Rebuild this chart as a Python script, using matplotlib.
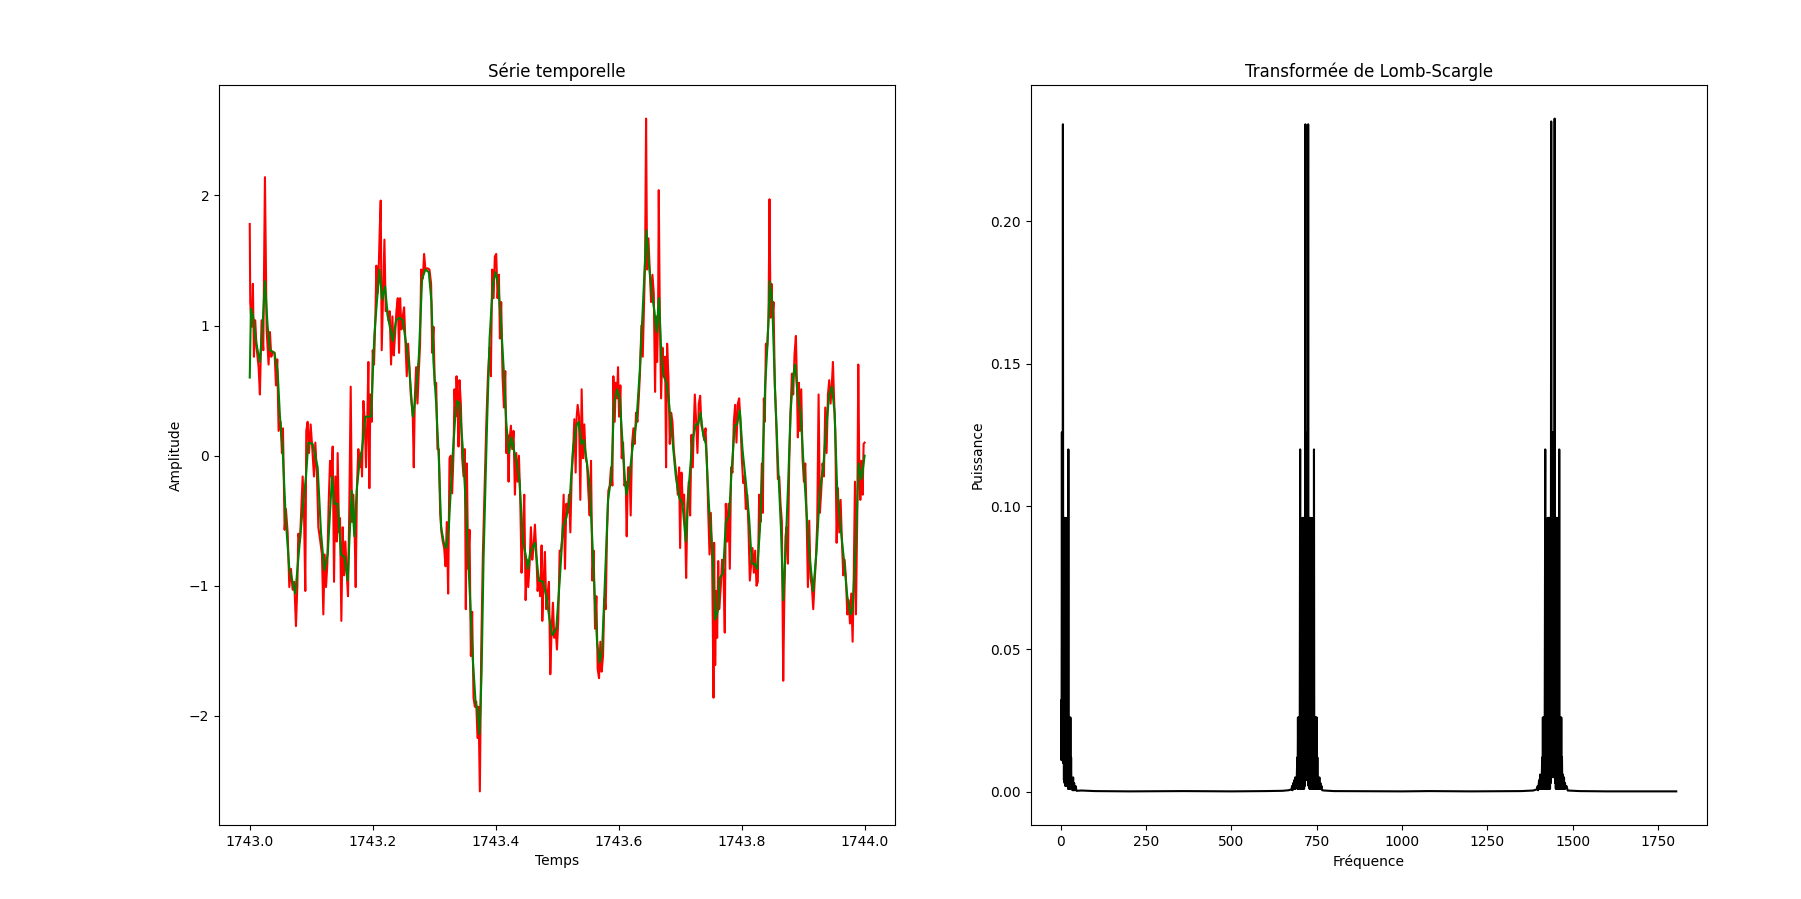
import numpy as np
import matplotlib
matplotlib.use("Agg")
import matplotlib.pyplot as plt

# Time axis starts at this year, offsets below are fractions of the year
t0 = 1743.0

# Raw series (red), (time offset, amplitude)
red_pts = [
    (0.0000, 1.78), (0.0008, 1.18), (0.0030, 0.99), (0.0051, 1.32), (0.0068, 0.76), (0.0089, 1.04),
    (0.0111, 0.83), (0.0144, 0.68), (0.0165, 0.47), (0.0192, 1.04), (0.0220, 0.81), (0.0247, 2.14),
    (0.0274, 0.97), (0.0306, 0.70), (0.0328, 0.95), (0.0350, 0.76), (0.0371, 0.80), (0.0404, 0.79),
    (0.0426, 0.54), (0.0447, 0.74), (0.0469, 0.19), (0.0502, 0.26), (0.0523, 0.02), (0.0540, 0.21),
    (0.0567, -0.57), (0.0588, -0.41), (0.0616, -0.59), (0.0643, -1.01), (0.0670, -0.87), (0.0697, -1.03),
    (0.0724, -0.97), (0.0751, -1.31), (0.0773, -1.01), (0.0789, -0.60), (0.0816, -0.66), (0.0838, -0.41),
    (0.0860, -0.16), (0.0881, -0.41), (0.0903, -1.04), (0.0919, 0.19), (0.0941, 0.26), (0.0963, 0.02),
    (0.0990, 0.24), (0.1017, 0.05), (0.1044, -0.16), (0.1066, 0.10), (0.1093, -0.16), (0.1115, -0.55),
    (0.1147, -0.66), (0.1174, -0.76), (0.1196, -1.22), (0.1218, -0.76), (0.1240, -1.01), (0.1261, -0.83),
    (0.1283, -0.36), (0.1305, -0.04), (0.1326, -0.16), (0.1348, 0.07), (0.1370, -0.97), (0.1391, -0.16),
    (0.1413, -0.66), (0.1429, 0.02), (0.1451, -0.59), (0.1467, -0.48), (0.1489, -1.27), (0.1511, -0.55),
    (0.1532, -0.92), (0.1554, -0.66), (0.1576, -0.90), (0.1597, -1.08), (0.1619, -0.37), (0.1641, 0.53),
    (0.1662, -0.51), (0.1684, -0.30), (0.1706, -0.62), (0.1722, -1.01), (0.1743, -0.23), (0.1765, 0.05),
    (0.1787, -0.09), (0.1809, 0.02), (0.1825, -0.16), (0.1847, 0.42), (0.1869, 0.26), (0.1890, -0.09),
    (0.1912, 0.30), (0.1928, 0.72), (0.1944, -0.25), (0.1961, 0.47), (0.1982, 0.26), (0.1999, 0.81),
    (0.2020, 0.70), (0.2042, 1.07), (0.2058, 1.46), (0.2080, 1.25), (0.2096, 1.43), (0.2113, 1.74),
    (0.2129, 1.96), (0.2145, 0.81), (0.2167, 1.25), (0.2189, 1.66), (0.2210, 1.11), (0.2232, 1.13),
    (0.2254, 1.04), (0.2275, 1.11), (0.2297, 0.70), (0.2319, 1.07), (0.2340, 0.77), (0.2362, 0.93),
    (0.2384, 1.11), (0.2406, 1.21), (0.2427, 0.79),
    (0.2444, 1.21), (0.2466, 0.97), (0.2487, 1.07), (0.2509, 1.14), (0.2531, 0.86), (0.2552, 0.61),
    (0.2574, 0.86), (0.2596, 0.68), (0.2617, 0.47), (0.2650, 0.30), (0.2666, -0.09), (0.2683, 0.44),
    (0.2704, 0.68), (0.2726, 0.40), (0.2748, 0.65), (0.2769, 0.86), (0.2786, 1.43), (0.2813, 1.36),
    (0.2834, 1.55), (0.2856, 1.43), (0.2889, 1.44), (0.2921, 1.43), (0.2948, 1.32), (0.2965, 0.79),
    (0.2986, 0.99), (0.3008, 0.54), (0.3030, 0.56), (0.3051, 0.05), (0.3073, 0.05), (0.3095, -0.44),
    (0.3116, -0.59), (0.3138, -0.66), (0.3160, -0.71), (0.3182, -0.85), (0.3203, -0.51), (0.3225, -1.06),
    (0.3247, -0.02), (0.3268, 0.00), (0.3290, -0.29), (0.3312, 0.02), (0.3328, 0.51), (0.3344, 0.30),
    (0.3361, 0.61), (0.3377, 0.44), (0.3393, 0.07), (0.3409, 0.58), (0.3431, 0.40), (0.3453, -0.02),
    (0.3475, -0.16), (0.3496, 0.05), (0.3512, -1.18), (0.3529, -0.06), (0.3550, -0.87), (0.3572, -0.57),
    (0.3594, -1.54), (0.3615, -1.20), (0.3637, -1.86), (0.3659, -1.93), (0.3681, -1.89), (0.3702, -2.17),
    (0.3719, -1.93), (0.3740, -2.58), (0.3762, -1.50), (0.3789, -0.76), (0.3816, -0.27), (0.3844, 0.23),
    (0.3871, 0.61), (0.3898, 0.83), (0.3919, 0.61), (0.3941, 1.43), (0.3963, 1.21), (0.3984, 1.53),
    (0.4006, 1.55), (0.4028, 1.21), (0.4050, 1.39), (0.4066, 0.90), (0.4087, 1.18), (0.4109, 0.61),
    (0.4131, 0.37), (0.4153, 0.65), (0.4169, 0.02), (0.4190, 0.16), (0.4207, -0.20), (0.4223, 0.12),
    (0.4245, 0.23), (0.4266, 0.05), (0.4288, 0.19), (0.4310, -0.30), (0.4332, 0.02), (0.4353, -0.20),
    (0.4375, 0.00), (0.4397, -0.34), (0.4418, -0.90), (0.4440, -0.62), (0.4462, -0.30), (0.4484, -1.11),
    (0.4505, -0.80), (0.4527, -1.01), (0.4549, -0.83), (0.4570, -0.55), (0.4592, -0.80), (0.4614, -0.69),
    (0.4635, -0.53), (0.4657, -0.73), (0.4679, -1.04), (0.4700, -0.94), (0.4722, -1.08), (0.4744, -0.69),
    (0.4755, -1.27), (0.4776, -0.97), (0.4798, -0.74), (0.4820, -1.18), (0.4841, -1.06), (0.4863, -0.97),
    (0.4885, -1.68), (0.4907, -1.33), (0.4928, -1.13), (0.4950, -1.40), (0.4972, -1.33), (0.4993, -1.49),
    (0.5015, -1.26), (0.5037, -0.73),
    (0.5059, -0.73), (0.5080, -0.62), (0.5102, -0.30), (0.5124, -0.87), (0.5145, -0.37), (0.5167, -0.44),
    (0.5189, -0.30), (0.5211, -0.59), (0.5232, -0.16), (0.5254, 0.02), (0.5276, 0.28), (0.5297, -0.13),
    (0.5314, 0.30), (0.5330, 0.39), (0.5352, 0.30), (0.5373, -0.34), (0.5395, 0.51), (0.5417, -0.02),
    (0.5438, 0.24), (0.5460, -0.02), (0.5482, -0.06), (0.5503, -0.27), (0.5525, -0.46), (0.5547, -0.04),
    (0.5569, -0.96), (0.5590, -0.73), (0.5612, -1.33), (0.5634, -1.08), (0.5655, -1.64), (0.5677, -1.71),
    (0.5699, -1.43), (0.5720, -1.66), (0.5742, -1.54), (0.5764, -1.10), (0.5786, -1.18), (0.5807, -0.59),
    (0.5829, -0.27), (0.5851, -0.23), (0.5872, -0.09), (0.5894, -0.23), (0.5910, 0.61), (0.5932, 0.26),
    (0.5948, 0.56), (0.5970, 0.44), (0.5986, 0.68), (0.6003, 0.30), (0.6024, 0.54), (0.6046, -0.02),
    (0.6068, 0.10), (0.6089, -0.23), (0.6111, -0.20), (0.6127, -0.62), (0.6149, -0.09), (0.6171, -0.09),
    (0.6192, -0.46), (0.6214, 0.09), (0.6236, 0.21), (0.6257, 0.09), (0.6279, 0.33), (0.6301, 0.26),
    (0.6323, 0.44), (0.6344, 0.65), (0.6366, 1.00), (0.6388, 0.76), (0.6409, 1.18), (0.6426, 1.50),
    (0.6442, 2.59), (0.6458, 1.43), (0.6480, 1.67), (0.6502, 1.41), (0.6523, 1.18), (0.6545, 1.39),
    (0.6567, 1.25), (0.6588, 0.49), (0.6605, 1.07), (0.6621, 0.72), (0.6637, 1.04), (0.6648, 2.04),
    (0.6664, 1.14), (0.6686, 0.44), (0.6708, 0.83), (0.6729, 0.61), (0.6751, 0.76), (0.6767, -0.09),
    (0.6784, 0.86), (0.6805, 0.61), (0.6827, 0.09), (0.6849, 0.33), (0.6871, 0.26), (0.6892, 0.05),
    (0.6914, -0.06), (0.6936, -0.16), (0.6957, -0.30), (0.6979, -0.09), (0.6995, -0.71), (0.7017, -0.13),
    (0.7039, -0.37), (0.7060, -0.30), (0.7082, -0.66), (0.7093, -0.94), (0.7115, -0.37), (0.7136, -0.20),
    (0.7158, -0.46), (0.7180, 0.16), (0.7201, -0.09), (0.7218, 0.23), (0.7234, 0.47), (0.7256, 0.26),
    (0.7277, 0.02), (0.7299, 0.40), (0.7321, 0.46), (0.7342, 0.23), (0.7364, 0.19), (0.7386, 0.12),
    (0.7408, 0.21), (0.7429, -0.02), (0.7451, -0.41), (0.7473, -0.76), (0.7494, -0.44), (0.7516, -0.80),
    (0.7538, -1.86), (0.7548, -0.67), (0.7565, -1.61), (0.7581, -1.04), (0.7597, -1.40), (0.7614, -0.81),
    (0.7630, -1.18),
    (0.7656, -1.01), (0.7678, -0.80), (0.7700, -0.90), (0.7721, -1.36), (0.7738, -0.37), (0.7759, -0.66),
    (0.7781, -0.37), (0.7803, -0.87), (0.7824, -0.09), (0.7846, -0.13), (0.7868, 0.26), (0.7890, 0.39),
    (0.7911, 0.10), (0.7933, 0.40), (0.7955, 0.44), (0.7976, 0.26), (0.7998, -0.02), (0.8020, -0.21),
    (0.8041, -0.16), (0.8063, -0.41), (0.8085, -0.30), (0.8106, -0.55), (0.8128, -0.96), (0.8150, -0.83),
    (0.8172, -0.71), (0.8193, -0.90), (0.8215, -0.73), (0.8237, -1.00), (0.8258, -0.97), (0.8280, -0.30),
    (0.8302, -0.51), (0.8323, -0.06), (0.8340, -0.44), (0.8356, 0.44), (0.8372, 0.26), (0.8389, 0.86),
    (0.8410, 0.84), (0.8432, 1.04), (0.8448, 1.97), (0.8465, 1.06), (0.8481, 1.32), (0.8497, 1.07),
    (0.8513, 1.18), (0.8535, 0.54), (0.8562, 0.19), (0.8584, -0.18), (0.8606, -0.16), (0.8627, -0.37),
    (0.8649, -0.51), (0.8671, -1.73), (0.8687, -1.15), (0.8709, -0.62), (0.8725, -0.55), (0.8747, -0.83),
    (0.8768, -0.06), (0.8790, 0.33), (0.8812, 0.63), (0.8833, 0.47), (0.8855, 0.78), (0.8877, 0.92),
    (0.8893, 0.58), (0.8909, 0.14), (0.8926, 0.56), (0.8942, 0.19), (0.8964, 0.51), (0.8985, -0.02),
    (0.9007, -0.20), (0.9029, -0.06), (0.9050, -0.44), (0.9072, -1.01), (0.9094, -0.50), (0.9115, -0.94),
    (0.9137, -1.01), (0.9159, -1.18), (0.9181, -0.97), (0.9202, -0.80), (0.9224, -0.51), (0.9246, 0.47),
    (0.9267, -0.44), (0.9289, -0.27), (0.9311, -0.06), (0.9332, -0.16), (0.9354, 0.37), (0.9376, 0.02),
    (0.9398, 0.47), (0.9419, 0.58), (0.9441, 0.40), (0.9463, 0.56), (0.9479, 0.72), (0.9495, 0.47),
    (0.9517, 0.19), (0.9539, -0.67), (0.9560, -0.25), (0.9582, -0.59), (0.9604, -0.34), (0.9625, -0.66),
    (0.9647, -0.92), (0.9669, -0.80), (0.9690, -0.94), (0.9712, -1.22), (0.9734, -1.11), (0.9756, -1.29),
    (0.9777, -1.06), (0.9799, -1.43), (0.9815, -1.01), (0.9837, -0.20), (0.9853, -1.22), (0.9875, -0.44),
    (0.9891, 0.70), (0.9907, -0.06), (0.9924, -0.34), (0.9940, -0.04), (0.9962, -0.30), (0.9978, 0.09),
    (0.9994, 0.10),
]

# Smoothed series (green)
green_pts = [
    (0.0000, 0.60), (0.0019, 1.13), (0.0057, 1.06), (0.0100, 0.88), (0.0165, 0.72), (0.0209, 1.00),
    (0.0247, 1.34), (0.0290, 1.00), (0.0328, 0.81), (0.0399, 0.79), (0.0453, 0.65), (0.0491, 0.30),
    (0.0534, 0.05), (0.0588, -0.51), (0.0643, -0.87), (0.0697, -0.97), (0.0740, -1.06), (0.0795, -0.76),
    (0.0860, -0.41), (0.0914, -0.16), (0.0952, 0.10), (0.1022, 0.09), (0.1104, -0.09), (0.1158, -0.59),
    (0.1212, -0.88), (0.1267, -0.76), (0.1337, -0.16), (0.1375, -0.37), (0.1429, -0.37), (0.1483, -0.76),
    (0.1538, -0.78), (0.1592, -0.96), (0.1619, -0.66), (0.1657, -0.27), (0.1700, -0.62), (0.1738, -0.27),
    (0.1782, -0.06), (0.1825, 0.05), (0.1879, 0.30), (0.1934, 0.30), (0.1972, 0.30), (0.2026, 0.93),
    (0.2107, 1.43), (0.2151, 1.20), (0.2200, 1.30), (0.2243, 1.07), (0.2324, 0.88), (0.2379, 1.04),
    (0.2433, 1.06), (0.2487, 1.04), (0.2541, 0.86), (0.2585, 0.72), (0.2650, 0.30), (0.2693, 0.44),
    (0.2748, 0.76), (0.2802, 1.36), (0.2856, 1.43), (0.2910, 1.41), (0.2954, 1.18), (0.2986, 0.72),
    (0.3030, 0.40), (0.3073, -0.02), (0.3111, -0.55), (0.3155, -0.67), (0.3193, -0.71), (0.3236, -0.55),
    (0.3290, -0.06), (0.3345, 0.33), (0.3371, 0.42), (0.3410, 0.40), (0.3464, 0.05), (0.3518, -0.44),
    (0.3572, -1.01), (0.3627, -1.57), (0.3670, -1.89), (0.3702, -1.96), (0.3735, -2.14), (0.3768, -1.68),
    (0.3800, -0.80), (0.3854, 0.19), (0.3898, 0.90), (0.3952, 1.32), (0.3995, 1.41), (0.4039, 1.32),
    (0.4087, 1.00), (0.4126, 0.68), (0.4169, 0.26), (0.4212, 0.02), (0.4256, 0.14), (0.4304, 0.02),
    (0.4342, -0.06), (0.4386, -0.20), (0.4440, -0.66), (0.4484, -0.76), (0.4521, -0.87), (0.4560, -0.74),
    (0.4635, -0.67), (0.4700, -0.96), (0.4766, -0.97), (0.4820, -1.08), (0.4874, -1.26), (0.4917, -1.38),
    (0.4982, -1.33), (0.5037, -0.97), (0.5091, -0.55), (0.5145, -0.48), (0.5200, -0.34), (0.5254, 0.05),
    (0.5308, 0.23), (0.5346, 0.26), (0.5390, 0.09), (0.5428, 0.12), (0.5471, -0.02), (0.5525, -0.23),
    (0.5569, -0.66), (0.5607, -1.08), (0.5645, -1.43), (0.5688, -1.59), (0.5726, -1.50), (0.5769, -1.01),
    (0.5824, -0.34), (0.5878, -0.16), (0.5921, 0.40), (0.5970, 0.51), (0.6013, 0.44), (0.6057, 0.12),
    (0.6095, -0.16), (0.6122, -0.30), (0.6165, -0.18), (0.6220, 0.05), (0.6285, 0.26), (0.6339, 0.65),
    (0.6393, 1.18), (0.6447, 1.73), (0.6491, 1.46), (0.6534, 1.25), (0.6578, 1.11), (0.6610, 0.95),
    (0.6653, 1.21), (0.6691, 0.76), (0.6729, 0.61), (0.6773, 0.56), (0.6816, 0.40), (0.6870, 0.12),
    (0.6925, -0.16), (0.6979, -0.32), (0.7033, -0.37), (0.7087, -0.66), (0.7142, -0.20), (0.7196, 0.12),
    (0.7250, 0.24), (0.7288, 0.24), (0.7326, 0.33), (0.7370, 0.16), (0.7413, 0.09), (0.7467, -0.41),
    (0.7521, -0.73), (0.7565, -1.26), (0.7608, -1.19), (0.7640, -0.94), (0.7694, -0.90), (0.7738, -0.51),
    (0.7792, -0.46), (0.7835, -0.09), (0.7884, 0.23), (0.7922, 0.24), (0.7965, 0.35), (0.8009, 0.05),
    (0.8063, -0.20), (0.8117, -0.48), (0.8161, -0.83), (0.8204, -0.83), (0.8248, -0.87), (0.8291, -0.58),
    (0.8334, -0.09), (0.8378, 0.54), (0.8416, 0.86), (0.8454, 1.34), (0.8492, 1.18), (0.8535, 0.54),
    (0.8589, -0.09), (0.8633, -0.55), (0.8671, -1.11), (0.8714, -0.66), (0.8752, -0.20), (0.8790, 0.33),
    (0.8833, 0.61), (0.8866, 0.70), (0.8904, 0.47), (0.8953, 0.33), (0.8996, -0.02), (0.9050, -0.44),
    (0.9105, -0.80), (0.9159, -1.04), (0.9213, -0.73), (0.9267, -0.27), (0.9322, -0.09), (0.9365, 0.19),
    (0.9419, 0.47), (0.9463, 0.53), (0.9506, 0.33), (0.9549, -0.27), (0.9604, -0.55), (0.9658, -0.80),
    (0.9712, -1.08), (0.9766, -1.22), (0.9799, -1.18), (0.9853, -0.66), (0.9897, -0.06), (0.9945, -0.18),
    (0.9994, 0.00),
]

# Lomb-Scargle periodogram (frequency, power): three alias clusters, dense sidelobes
ls_pts = [
    (1.5, 0.032), (2, 0.011), (3, 0.126), (4, 0.012), (5, 0.015), (6, 0.234), (7, 0.010), (8, 0.096),
    (9, 0.004), (10, 0.096), (11, 0.003), (12, 0.096), (13, 0.002), (14, 0.084), (15, 0.002),
    (16, 0.084), (17, 0.002), (18, 0.096), (19, 0.002), (20, 0.096), (21, 0.001), (22, 0.120),
    (23, 0.001), (24, 0.026), (25, 0.001), (26, 0.026), (27, 0.001), (28, 0.026), (29, 0.001),
    (30, 0.012), (31, 0.001), (33, 0.004), (34, 0.0005), (36, 0.005), (37, 0.0005), (39, 0.003),
    (40, 0.0005), (43, 0.002), (46, 0.0003), (60, 0.0004), (100, 0.0002), (200, 0.0001),
    (360, 0.0002), (500, 0.0001), (600, 0.0002), (650, 0.0003), (668, 0.0005),
    (676, 0.0008), (678, 0.002), (679, 0.0005), (681, 0.003), (682, 0.001), (684, 0.004), (685, 0.001),
    (687, 0.005), (688, 0.001), (690, 0.004), (691, 0.002), (693, 0.012), (694, 0.001), (695, 0.026),
    (696, 0.001), (697, 0.026), (698, 0.001), (699, 0.026), (700, 0.001), (701.5, 0.120), (702.5, 0.001),
    (704, 0.085), (705, 0.001), (706, 0.085), (707, 0.001), (708, 0.096), (709, 0.001), (710, 0.096),
    (711, 0.001), (712, 0.096), (713, 0.001), (714, 0.096), (715, 0.002), (717, 0.234), (718, 0.004),
    (719, 0.126), (720, 0.008), (721, 0.096), (722, 0.008), (723, 0.126), (724, 0.004), (725, 0.234),
    (726, 0.002), (728, 0.096), (729, 0.001), (730, 0.096), (731, 0.001), (732, 0.096), (733, 0.001),
    (734, 0.096), (735, 0.001), (736, 0.085), (737, 0.001), (738, 0.085), (739, 0.001), (740, 0.096),
    (741, 0.001), (742, 0.120), (743, 0.001), (744, 0.026), (745, 0.001), (746, 0.026), (747, 0.001),
    (748, 0.026), (749, 0.001), (750, 0.026), (751, 0.001), (752, 0.012), (753, 0.001), (755, 0.004),
    (756, 0.001), (758, 0.005), (759, 0.001), (761, 0.003), (762, 0.001), (764, 0.002), (766, 0.0005),
    (772, 0.0004), (800, 0.0002), (1000, 0.0001), (1080, 0.0002), (1200, 0.0001), (1350, 0.0002),
    (1385, 0.0004),
    (1395, 0.0008), (1398, 0.002), (1399, 0.0005), (1402, 0.004), (1403, 0.001), (1405, 0.006),
    (1406, 0.001), (1408, 0.005), (1409, 0.001), (1411, 0.012), (1412, 0.001), (1413, 0.026),
    (1414, 0.001), (1415, 0.026), (1416, 0.001), (1417, 0.026), (1418, 0.001), (1420, 0.120),
    (1421, 0.001), (1423, 0.084), (1424, 0.001), (1425, 0.084), (1426, 0.001), (1427, 0.096),
    (1428, 0.001), (1429, 0.096), (1430, 0.001), (1431, 0.096), (1432, 0.001), (1433, 0.096),
    (1434, 0.001), (1435, 0.096), (1436, 0.003), (1437.5, 0.235), (1439, 0.005), (1440, 0.126),
    (1441, 0.008), (1442.5, 0.096), (1444, 0.008), (1445, 0.126), (1446, 0.005), (1447.5, 0.236),
    (1449, 0.003), (1450, 0.096), (1451, 0.001), (1452, 0.096), (1453, 0.001), (1454, 0.096),
    (1455, 0.001), (1456, 0.096), (1457, 0.084), (1458, 0.001), (1459, 0.084), (1460, 0.001),
    (1461, 0.120), (1462, 0.001), (1463, 0.026), (1464, 0.001), (1465, 0.026), (1466, 0.001),
    (1467, 0.026), (1468, 0.001), (1469, 0.012), (1470, 0.001), (1472, 0.006), (1473, 0.001),
    (1475, 0.005), (1476, 0.001), (1478, 0.003), (1479, 0.001), (1482, 0.002), (1486, 0.0004),
    (1520, 0.0002), (1600, 0.0001), (1700, 0.0001), (1804, 0.0001),
]

red_t, red_v = zip(*red_pts)
green_t, green_v = zip(*green_pts)
freq, power = zip(*ls_pts)

fig, (ax1, ax2) = plt.subplots(1, 2, figsize=(18.01, 8.99), dpi=100)
fig.subplots_adjust(left=0.1216, right=0.9478, bottom=0.0823, top=0.9055, wspace=0.2)

# Left: time series, raw in red with smoothed curve on top
ax1.plot(t0 + np.array(red_t), red_v, color="r")
ax1.plot(t0 + np.array(green_t), green_v, color="g")
ax1.set_title("Série temporelle")
ax1.set_xlabel("Temps")
ax1.set_ylabel("Amplitude")
ax1.ticklabel_format(axis="x", useOffset=False)

# Right: periodogram
ax2.plot(freq, power, color="k")
ax2.set_title("Transformée de Lomb-Scargle")
ax2.set_xlabel("Fréquence")
ax2.set_ylabel("Puissance")

fig.savefig("out.png", dpi=100)
